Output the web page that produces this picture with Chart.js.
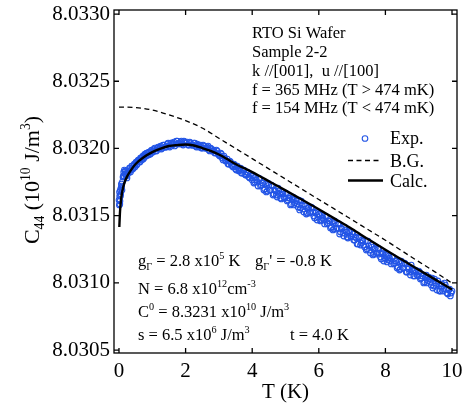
<!DOCTYPE html>
<html>
<head>
<meta charset="utf-8">
<script src="https://cdn.jsdelivr.net/npm/chart.js@4.4.0/dist/chart.umd.min.js"></script>
<style>
  body { margin: 0; background: #fff; }
</style>
</head>
<body>
<canvas id="c44chart" width="464" height="411"></canvas>
<script>
// axis ticks
var xTicks = [0, 2, 4, 6, 8, 10];
var yTicks = [8.0305, 8.0310, 8.0315, 8.0320, 8.0325, 8.0330];

// Exp. points (T in K, C44 in 10^10 J/m^3), first sweep
var expT = [
  0.01, 0.02, 0.03, 0.04, 0.05, 0.06, 0.08, 0.10, 0.12, 0.14,
  0.16, 0.18, 0.20, 0.22, 0.24, 0.26, 0.28, 0.30, 0.33, 0.36,
  0.40, 0.43, 0.46, 0.50, 0.53, 0.56, 0.60, 0.63, 0.66, 0.70,
  0.73, 0.76, 0.80, 0.83, 0.86, 0.90, 0.93, 0.96, 1.00, 1.05,
  1.10, 1.15, 1.20, 1.25, 1.30, 1.35, 1.40, 1.45, 1.50, 1.55,
  1.60, 1.65, 1.70, 1.75, 1.80, 1.85, 1.90, 1.95, 2.00, 2.05,
  2.10, 2.15, 2.20, 2.25, 2.30, 2.35, 2.40, 2.45, 2.50, 2.55,
  2.60, 2.65, 2.70, 2.75, 2.80, 2.85, 2.90, 2.95, 3.00, 3.05,
  3.10, 3.15, 3.20, 3.25, 3.30, 3.35, 3.40, 3.45, 3.50, 3.55,
  3.60, 3.65, 3.70, 3.75, 3.80, 3.85, 3.90, 3.95, 4.00, 4.05,
  4.10, 4.15, 4.20, 4.25, 4.30, 4.35, 4.40, 4.45, 4.50, 4.55,
  4.60, 4.65, 4.70, 4.75, 4.80, 4.85, 4.90, 4.95, 5.00, 5.05,
  5.10, 5.15, 5.20, 5.25, 5.30, 5.35, 5.40, 5.45, 5.50, 5.55,
  5.60, 5.65, 5.70, 5.75, 5.80, 5.85, 5.90, 5.95, 6.00, 6.05,
  6.10, 6.15, 6.20, 6.25, 6.30, 6.35, 6.40, 6.45, 6.50, 6.55,
  6.60, 6.65, 6.70, 6.75, 6.80, 6.85, 6.90, 6.95, 7.00, 7.05,
  7.10, 7.15, 7.20, 7.25, 7.30, 7.35, 7.40, 7.45, 7.50, 7.55,
  7.60, 7.65, 7.70, 7.75, 7.80, 7.85, 7.90, 7.95, 8.00, 8.05,
  8.10, 8.15, 8.20, 8.25, 8.30, 8.35, 8.40, 8.45, 8.50, 8.55,
  8.60, 8.65, 8.70, 8.75, 8.80, 8.85, 8.90, 8.95, 9.00, 9.05,
  9.10, 9.15, 9.20, 9.25, 9.30, 9.35, 9.40, 9.45, 9.50, 9.55,
  9.60, 9.65, 9.70, 9.75, 9.80, 9.85, 9.90, 9.95, 10.00
];
var expC = [
  8.031579, 8.031646, 8.031609, 8.031690, 8.031661, 8.031705, 8.031720, 8.031750, 8.031787, 8.031824,
  8.031839, 8.031809, 8.031832, 8.031795, 8.031780, 8.031809, 8.031824, 8.031832, 8.031854, 8.031839,
  8.031869, 8.031854, 8.031884, 8.031891, 8.031876, 8.031906, 8.031914, 8.031899, 8.031928, 8.031936,
  8.031921, 8.031951, 8.031943, 8.031966, 8.031951, 8.031973, 8.031958, 8.031981, 8.031973, 8.031995,
  8.031981, 8.032003, 8.031995, 8.032018, 8.032003, 8.032025, 8.032010, 8.032033, 8.032018, 8.032040,
  8.032025, 8.032047, 8.032033, 8.032055, 8.032040, 8.032047, 8.032033, 8.032055, 8.032040, 8.032047,
  8.032025, 8.032040, 8.032025, 8.032040, 8.032018, 8.032033, 8.032010, 8.032025, 8.032003, 8.032018,
  8.032003, 8.032010, 8.031988, 8.032003, 8.031981, 8.031988, 8.031966, 8.031981, 8.031951, 8.031966,
  8.031928, 8.031943, 8.031906, 8.031921, 8.031884, 8.031899, 8.031869, 8.031884, 8.031847, 8.031869,
  8.031832, 8.031854, 8.031817, 8.031839, 8.031802, 8.031824, 8.031787, 8.031809, 8.031765, 8.031742,
  8.031787, 8.031750, 8.031780, 8.031720, 8.031742, 8.031690, 8.031735, 8.031683, 8.031728, 8.031690,
  8.031720, 8.031661, 8.031683, 8.031638, 8.031683, 8.031631, 8.031676, 8.031638, 8.031668, 8.031609,
  8.031631, 8.031579, 8.031624, 8.031579, 8.031624, 8.031586, 8.031616, 8.031557, 8.031579, 8.031527,
  8.031571, 8.031519, 8.031564, 8.031527, 8.031557, 8.031497, 8.031519, 8.031467, 8.031512, 8.031460,
  8.031504, 8.031467, 8.031497, 8.031438, 8.031460, 8.031408, 8.031452, 8.031400, 8.031445, 8.031408,
  8.031438, 8.031378, 8.031400, 8.031348, 8.031393, 8.031341, 8.031385, 8.031348, 8.031378, 8.031318,
  8.031341, 8.031289, 8.031333, 8.031281, 8.031318, 8.031281, 8.031311, 8.031251, 8.031274, 8.031222,
  8.031266, 8.031214, 8.031259, 8.031222, 8.031251, 8.031192, 8.031214, 8.031162, 8.031207, 8.031155,
  8.031199, 8.031162, 8.031192, 8.031140, 8.031162, 8.031110, 8.031155, 8.031103, 8.031147, 8.031110,
  8.031140, 8.031080, 8.031103, 8.031058, 8.031103, 8.031051, 8.031095, 8.031058, 8.031088, 8.031028,
  8.031051, 8.030999, 8.031043, 8.030999, 8.031043, 8.031006, 8.031036, 8.030976, 8.030999, 8.030946,
  8.030991, 8.030939, 8.030991, 8.030954, 8.030984, 8.030924, 8.030946, 8.030902, 8.030939
];

// Exp. points, second sweep (in between the first)
var expT2 = [
  0.000, 0.015, 0.025, 0.045, 0.070, 0.090, 0.130, 0.150, 0.190, 0.210,
  0.250, 0.315, 0.345, 0.380, 0.415, 0.450, 0.480, 0.515, 0.545, 0.580,
  0.615, 0.645, 0.680, 0.715, 0.745, 0.780, 0.815, 0.845, 0.880, 0.915,
  0.945, 0.980,
  1.025, 1.075, 1.125, 1.175, 1.225, 1.275, 1.325, 1.375, 1.425, 1.475,
  1.525, 1.575, 1.625, 1.675, 1.725, 1.775, 1.825, 1.875, 1.925, 1.975,
  2.025, 2.075, 2.125, 2.175, 2.225, 2.275, 2.325, 2.375, 2.425, 2.475,
  2.525, 2.575, 2.625, 2.675, 2.725, 2.775, 2.825, 2.875, 2.925, 2.975,
  3.025, 3.075, 3.125, 3.175, 3.225, 3.275, 3.325, 3.375, 3.425, 3.475,
  3.525, 3.575, 3.625, 3.675, 3.725, 3.775, 3.825, 3.875, 3.925, 3.975,
  4.025, 4.075, 4.125, 4.175, 4.225, 4.275, 4.325, 4.375, 4.425, 4.475,
  4.525, 4.575, 4.625, 4.675, 4.725, 4.775, 4.825, 4.875, 4.925, 4.975,
  5.025, 5.075, 5.125, 5.175, 5.225, 5.275, 5.325, 5.375, 5.425, 5.475,
  5.525, 5.575, 5.625, 5.675, 5.725, 5.775, 5.825, 5.875, 5.925, 5.975,
  6.025, 6.075, 6.125, 6.175, 6.225, 6.275, 6.325, 6.375, 6.425, 6.475,
  6.525, 6.575, 6.625, 6.675, 6.725, 6.775, 6.825, 6.875, 6.925, 6.975,
  7.025, 7.075, 7.125, 7.175, 7.225, 7.275, 7.325, 7.375, 7.425, 7.475,
  7.525, 7.575, 7.625, 7.675, 7.725, 7.775, 7.825, 7.875, 7.925, 7.975,
  8.025, 8.075, 8.125, 8.175, 8.225, 8.275, 8.325, 8.375, 8.425, 8.475,
  8.525, 8.575, 8.625, 8.675, 8.725, 8.775, 8.825, 8.875, 8.925, 8.975,
  9.025, 9.075, 9.125, 9.175, 9.225, 9.275, 9.325, 9.375, 9.425, 9.475,
  9.525, 9.575, 9.625, 9.675, 9.725, 9.775, 9.825, 9.875, 9.925, 9.975
];
var expC2 = [
  8.031616, 8.031676, 8.031586, 8.031646, 8.031735, 8.031690, 8.031795, 8.031795, 8.031832, 8.031809,
  8.031824, 8.031854, 8.031824, 8.031869, 8.031847, 8.031876, 8.031862, 8.031899, 8.031884, 8.031914,
  8.031899, 8.031928, 8.031914, 8.031943, 8.031928, 8.031958, 8.031943, 8.031966, 8.031951, 8.031973,
  8.031958, 8.031988,
  8.031973, 8.032003, 8.031981, 8.032010, 8.032003, 8.031995, 8.032025, 8.032010, 8.032010, 8.032040,
  8.032010, 8.032040, 8.032033, 8.032018, 8.032055, 8.032033, 8.032033, 8.032055, 8.032025, 8.032047,
  8.032040, 8.032025, 8.032047, 8.032025, 8.032025, 8.032040, 8.032010, 8.032025, 8.032018, 8.032003,
  8.032025, 8.032003, 8.032003, 8.032018, 8.031981, 8.031995, 8.031981, 8.031966, 8.031988, 8.031958,
  8.031943, 8.031958, 8.031914, 8.031928, 8.031906, 8.031884, 8.031906, 8.031876, 8.031862, 8.031876,
  8.031839, 8.031854, 8.031839, 8.031817, 8.031839, 8.031809, 8.031802, 8.031817, 8.031780, 8.031795,
  8.031795, 8.031750, 8.031765, 8.031720, 8.031772, 8.031728, 8.031742, 8.031698, 8.031676, 8.031742,
  8.031690, 8.031728, 8.031653, 8.031690, 8.031653, 8.031705, 8.031661, 8.031624, 8.031661, 8.031631,
  8.031661, 8.031616, 8.031631, 8.031586, 8.031638, 8.031594, 8.031609, 8.031564, 8.031542, 8.031609,
  8.031549, 8.031586, 8.031512, 8.031557, 8.031519, 8.031564, 8.031527, 8.031482, 8.031527, 8.031490,
  8.031512, 8.031467, 8.031482, 8.031438, 8.031490, 8.031445, 8.031460, 8.031415, 8.031393, 8.031460,
  8.031400, 8.031438, 8.031363, 8.031408, 8.031370, 8.031415, 8.031378, 8.031333, 8.031378, 8.031341,
  8.031363, 8.031318, 8.031333, 8.031289, 8.031341, 8.031296, 8.031311, 8.031266, 8.031244, 8.031311,
  8.031244, 8.031281, 8.031207, 8.031251, 8.031214, 8.031259, 8.031222, 8.031177, 8.031222, 8.031184,
  8.031214, 8.031170, 8.031184, 8.031140, 8.031192, 8.031147, 8.031162, 8.031118, 8.031095, 8.031162,
  8.031110, 8.031147, 8.031080, 8.031118, 8.031080, 8.031132, 8.031088, 8.031051, 8.031080, 8.031051,
  8.031080, 8.031036, 8.031051, 8.031006, 8.031058, 8.031014, 8.031028, 8.030984, 8.030961, 8.031028,
  8.030976, 8.031014, 8.030939, 8.030976, 8.030939, 8.030999, 8.030954, 8.030917, 8.030954, 8.030924
];

// Calc. curve
var calcT = [0.01, 0.03, 0.06, 0.10, 0.16, 0.25, 0.36, 0.50, 0.75, 1.00, 1.25, 1.50, 1.75, 2.00, 2.25,
  2.50, 2.75, 3.00, 3.25, 3.50, 4.00, 4.50, 5.00, 5.50, 6.00, 6.50, 7.00, 7.50, 8.00, 8.50, 9.00, 9.50, 10.00];
var calcC = [8.031415, 8.031527, 8.031616, 8.031683, 8.031742, 8.031795, 8.031839, 8.031884, 8.031936,
  8.031973, 8.031999, 8.032018, 8.032025, 8.032029, 8.032022, 8.032003, 8.031981, 8.031955, 8.031921,
  8.031884, 8.031824, 8.031756, 8.031688, 8.031618, 8.031547, 8.031474, 8.031400, 8.031322, 8.031246,
  8.031172, 8.031098, 8.031024, 8.030950];

// B.G. curve
var bgT = [0, 0.5, 1.0, 1.5, 2.0, 2.5, 3.0, 3.5, 4.0, 4.5, 5.0, 5.5, 6.0, 6.5, 7.0, 7.5, 8.0, 8.5, 9.0, 9.5, 10.0];
var bgC = [8.032308, 8.032304, 8.032286, 8.032250, 8.032207, 8.032152, 8.032076, 8.032000, 8.031924,
  8.031848, 8.031772, 8.031696, 8.031620, 8.031545, 8.031469, 8.031393, 8.031317, 8.031237, 8.031158,
  8.031080, 8.030998];

var infoLines = ['RTO Si Wafer', 'Sample 2-2', 'k //[001],  u //[100]',
  'f = 365 MHz (T > 474 mK)', 'f = 154 MHz (T < 474 mK)'];

var serif = '"Liberation Serif", "Times New Roman", serif';
var expColor = 'rgb(35,85,230)';
Chart.defaults.font.family = serif;
Chart.defaults.color = '#000';

function pts(xs, ys) {
  return xs.map(function (x, i) { return { x: x, y: ys[i] }; });
}

// text with sub / superscripts
function richText(ctx, parts, x, y, size, measureOnly) {
  var start = x;
  parts.forEach(function (p) {
    var fs = p[1] ? size * 0.62 : size;
    var dy = p[1] === 'sup' ? -0.42 * size : (p[1] === 'sub' ? 0.24 * size : 0);
    ctx.font = fs + 'px ' + serif;
    if (!measureOnly) ctx.fillText(p[0], x, y + dy);
    x += ctx.measureText(p[0]).width;
  });
  return x - start;
}

var overlay = {
  id: 'overlay',
  afterDatasetsDraw: function (chart) {
    var ctx = chart.ctx, a = chart.chartArea;
    var sx = chart.scales.x, sy = chart.scales.y;
    ctx.save();
    ctx.strokeStyle = '#000';
    ctx.fillStyle = '#000';
    ctx.lineWidth = 1.3;
    ctx.strokeRect(a.left, a.top, a.right - a.left, a.bottom - a.top);
    ctx.beginPath();
    sx.ticks.forEach(function (t) {
      var p = sx.getPixelForValue(t.value);
      ctx.moveTo(p, a.bottom); ctx.lineTo(p, a.bottom - 5);
      ctx.moveTo(p, a.top); ctx.lineTo(p, a.top + 5);
    });
    sy.ticks.forEach(function (t) {
      var p = sy.getPixelForValue(t.value);
      ctx.moveTo(a.left, p); ctx.lineTo(a.left + 5, p);
      ctx.moveTo(a.right, p); ctx.lineTo(a.right - 5, p);
    });
    ctx.stroke();

    ctx.textBaseline = 'alphabetic';
    ctx.textAlign = 'left';

    // sample info
    ctx.font = '16.5px ' + serif;
    var base = [38, 57, 76, 94.5, 113];
    infoLines.forEach(function (s, i) { ctx.fillText(s, 252, base[i]); });

    // fit parameters
    richText(ctx, [['g'], ['\u0393', 'sub'], [' = 2.8 x10'], ['5', 'sup'], [' K']], 138, 266, 16.5);
    richText(ctx, [['g'], ['\u0393', 'sub'], ["' = -0.8 K"]], 255, 266, 16.5);
    richText(ctx, [['N = 6.8 x10'], ['12', 'sup'], ['cm'], ['-3', 'sup']], 138, 294, 16.5);
    richText(ctx, [['C'], ['0', 'sup'], [' = 8.3231 x10'], ['10', 'sup'], [' J/m'], ['3', 'sup']], 138, 317, 16.5);
    richText(ctx, [['s = 6.5 x10'], ['6', 'sup'], [' J/m'], ['3', 'sup']], 138, 340, 16.5);
    richText(ctx, [['t = 4.0 K']], 290, 340, 16.5);

    // legend
    ctx.font = '18px ' + serif;
    ctx.strokeStyle = expColor;
    ctx.lineWidth = 1.1;
    ctx.beginPath();
    ctx.arc(365, 138.5, 2.8, 0, Math.PI * 2);
    ctx.stroke();
    ctx.fillText('Exp.', 390, 144);
    ctx.strokeStyle = '#000';
    ctx.lineWidth = 1.3;
    ctx.setLineDash([5, 3.5]);
    ctx.beginPath(); ctx.moveTo(348, 160.5); ctx.lineTo(379, 160.5); ctx.stroke();
    ctx.setLineDash([]);
    ctx.fillText('B.G.', 390, 166.5);
    ctx.lineWidth = 2.4;
    ctx.beginPath(); ctx.moveTo(348, 180.5); ctx.lineTo(383, 180.5); ctx.stroke();
    ctx.fillText('Calc.', 390, 186.5);

    // y axis title, rotated
    var yTitle = [['C'], ['44', 'sub'], [' (10'], ['10', 'sup'], [' J/m'], ['3', 'sup'], [')']];
    ctx.translate(39, 180);
    ctx.rotate(-Math.PI / 2);
    var w = richText(ctx, yTitle, 0, 0, 22, true);
    richText(ctx, yTitle, -w / 2, 0, 22);
    ctx.restore();
  }
};

var ctx = document.getElementById('c44chart').getContext('2d');
new Chart(ctx, {
  type: 'scatter',
  data: {
    datasets: [
      {
        label: 'Calc.',
        data: pts(calcT, calcC),
        showLine: true,
        borderColor: '#000',
        borderWidth: 2.4,
        pointRadius: 0,
        cubicInterpolationMode: 'monotone',
        order: 0
      },
      {
        label: 'B.G.',
        data: pts(bgT, bgC),
        showLine: true,
        borderColor: '#000',
        borderWidth: 1.3,
        borderDash: [5, 3.5],
        pointRadius: 0,
        cubicInterpolationMode: 'monotone',
        order: 1
      },
      {
        label: 'Exp.',
        data: pts(expT, expC).concat(pts(expT2, expC2)),
        pointStyle: 'circle',
        pointRadius: 2.8,
        borderWidth: 1.1,
        borderColor: expColor,
        backgroundColor: 'rgba(0,0,0,0)',
        order: 2
      }
    ]
  },
  options: {
    responsive: false,
    animation: false,
    devicePixelRatio: 1,
    layout: { padding: { top: 10, right: 7, left: 0, bottom: 0 } },
    plugins: { legend: { display: false }, tooltip: { enabled: false } },
    scales: {
      x: {
        type: 'linear',
        min: -0.15,
        max: 10.15,
        afterBuildTicks: function (s) { s.ticks = xTicks.map(function (v) { return { value: v }; }); },
        afterFit: function (s) { s.height = 58; s.paddingLeft = 0; s.paddingRight = 0; },
        grid: { display: false, drawTicks: false },
        border: { display: false },
        ticks: { font: { size: 21 }, padding: 6, maxRotation: 0, autoSkip: false },
        title: { display: true, text: 'T (K)', font: { size: 21 }, padding: { top: 0, bottom: 6 } }
      },
      y: {
        type: 'linear',
        min: 8.030478,
        max: 8.03303,
        afterBuildTicks: function (s) { s.ticks = yTicks.map(function (v) { return { value: v }; }); },
        afterFit: function (s) { s.width = 114; s.paddingTop = 0; s.paddingBottom = 0; },
        grid: { display: false, drawTicks: false },
        border: { display: false },
        ticks: {
          font: { size: 21 },
          padding: 4,
          callback: function (v) { return v.toFixed(4); }
        }
      }
    }
  },
  plugins: [overlay]
});
</script>
</body>
</html>
